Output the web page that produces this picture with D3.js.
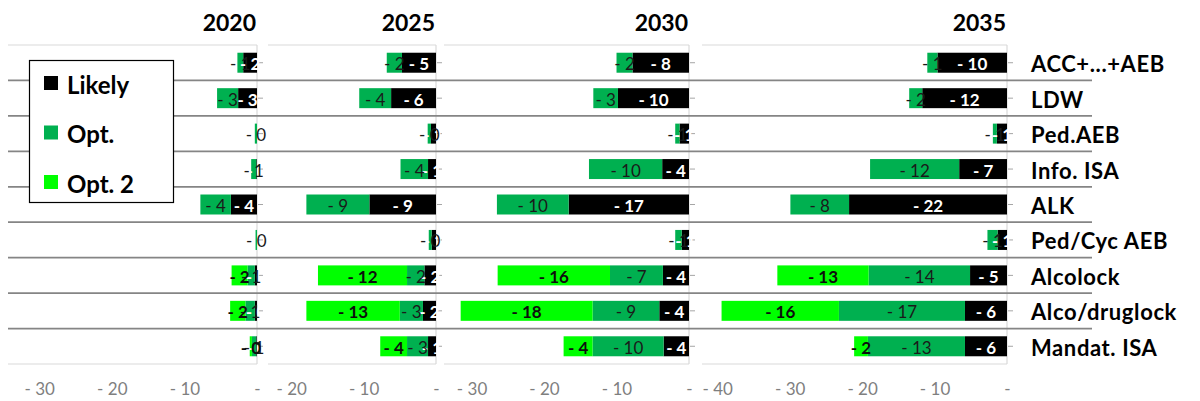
<!DOCTYPE html>
<html>
<head>
<meta charset="utf-8">
<script src="https://cdn.jsdelivr.net/npm/d3@7"></script>
<style>
  html, body { margin: 0; padding: 0; background: #fff; }
  svg { display: block; font-family: Lato, "Open Sans", sans-serif; }
</style>
</head>
<body>
<svg id="chart" width="1200" height="401"></svg>
<script>
// ---------------- DATA ----------------
const categories = ["ACC+...+AEB", "LDW", "Ped.AEB", "Info. ISA", "ALK", "Ped/Cyc AEB", "Alcolock", "Alco/druglock", "Mandat. ISA"];
const years = ["2020", "2025", "2030", "2035"];
const seriesNames = ["Likely", "Opt.", "Opt. 2"];

// values per year (one inner array per year, in order of `years`)
const likely = [
  [-1.9, -2.6, 0, -0.1, -3.6, 0, -0.3, -0.3, -0.1],
  [-4.7, -6.2, -0.7, -1.1, -9.2, -0.6, -1.6, -1.8, -1.1],
  [-7.8, -9.8, -1.3, -3.7, -16.6, -1.0, -3.6, -4.1, -3.5],
  [-9.6, -11.7, -1.4, -6.6, -21.8, -1.3, -5.1, -5.8, -5.8]
];
const opt = [
  [-0.8, -2.9, -0.3, -0.7, -4.2, -0.2, -1.0, -1.3, -0.6],
  [-2.1, -4.4, -0.45, -3.8, -8.7, -0.4, -2.4, -3.2, -2.9],
  [-2.2, -3.4, -0.6, -10.1, -9.9, -0.9, -7.3, -9.2, -9.8],
  [-1.4, -1.8, -0.55, -12.3, -8.1, -1.4, -14.0, -17.4, -13.4]
];
const opt2 = [
  [null, null, null, null, null, null, -2.2, -2.1, -0.3],
  [null, null, null, null, null, null, -12.3, -12.9, -3.7],
  [null, null, null, null, null, null, -15.5, -18.2, -4.0],
  [null, null, null, null, null, null, -12.6, -16.2, -1.9]
];
const axisMin = [-34.3, -23.2, -33.8, -42.1];
const tickValues = [
  [-30, -20, -10, 0],
  [-20, -10, 0],
  [-30, -20, -10, 0],
  [-40, -30, -20, -10, 0]
];

// ---------------- LAYOUT ----------------
const panelLeft = [8, 268, 444, 702];
const panelZero = [257, 436, 689, 1007];
const plotTop = 45, plotBottom = 364;
const colors = { "Likely": "#000000", "Opt.": "#00B050", "Opt. 2": "#00FF00" };

// Excel accounting-like format: "- 3", zero -> "-"
function acct(v) {
  const r = Math.round(Math.abs(v) + 1e-9);
  if (Math.abs(v) < 1e-9) return "-";
  return (v < 0 ? "- " : "") + r;
}

const svg = d3.select("#chart");

const y = d3.scaleBand().domain(categories).range([plotTop, plotBottom])
  .paddingInner(0.436).paddingOuter(0.218);
const step = y.step();

// Panel frame (light top/bottom lines and right vertical line)
years.forEach((yr, p) => {
  const g = svg.append("g");
  g.append("line").attr("x1", panelLeft[p]).attr("x2", panelZero[p])
    .attr("y1", plotTop).attr("y2", plotTop).attr("stroke", "#d9d9d9").attr("stroke-width", 1.2);
  g.append("line").attr("x1", panelLeft[p]).attr("x2", panelZero[p])
    .attr("y1", plotBottom).attr("y2", plotBottom).attr("stroke", "#d9d9d9").attr("stroke-width", 1.2);
  g.append("line").attr("x1", panelZero[p]).attr("x2", panelZero[p])
    .attr("y1", plotTop).attr("y2", plotBottom).attr("stroke", "#d9d9d9").attr("stroke-width", 1.2);
});

// Row separators (continuous)
d3.range(1, categories.length).forEach(k => {
  const yy = plotTop + step * k;
  svg.append("line").attr("x1", 8).attr("x2", 1092).attr("y1", yy).attr("y2", yy)
    .attr("stroke", "#858585").attr("stroke-width", 1.7);
});

// Panels
years.forEach((yr, p) => {
  const x = d3.scaleLinear().domain([axisMin[p], 0]).range([panelLeft[p], panelZero[p]]);
  const g = svg.append("g");

  // category ticks to the right of zero
  categories.forEach(c => {
    const cy = y(c) + y.bandwidth() / 2;
    g.append("line").attr("x1", x(0) + 1).attr("x2", x(0) + 6)
      .attr("y1", cy).attr("y2", cy).attr("stroke", "#a6a6a6").attr("stroke-width", 1);
  });

  // build stacked segments
  const segs = [];
  categories.forEach((c, i) => {
    let acc = 0;
    const parts = [["Likely", likely[p][i]], ["Opt.", opt[p][i]], ["Opt. 2", opt2[p][i]]];
    parts.forEach(([name, v]) => {
      if (v === null || v === undefined) return;
      segs.push({ cat: c, name, v, x0: acc, x1: acc + v });
      acc += v;
    });
  });

  g.selectAll("rect.seg").data(segs).join("rect")
    .attr("class", "seg")
    .attr("x", d => x(d.x1))
    .attr("width", d => x(d.x0) - x(d.x1))
    .attr("y", d => y(d.cat))
    .attr("height", y.bandwidth())
    .attr("fill", d => colors[d.name]);

  g.selectAll("text.lbl").data(segs.filter(d => d.v !== 0)).join("text")
    .attr("class", "lbl")
    .attr("x", d => (x(d.x0) + x(d.x1)) / 2)
    .attr("y", d => y(d.cat) + y.bandwidth() / 2 + 1)
    .attr("text-anchor", "middle")
    .attr("dominant-baseline", "central")
    .attr("font-size", 17)
    .attr("font-weight", d => d.name === "Opt." ? 400 : 700)
    .attr("fill", d => d.name === "Likely" ? "#ffffff" : (d.name === "Opt." ? "#1a1a1a" : "#0d0d0d"))
    .text(d => acct(d.v));

  // bottom axis
  const ax = g.append("g").attr("transform", `translate(0,${plotBottom})`)
    .call(d3.axisBottom(x).tickValues(tickValues[p]).tickSize(0).tickPadding(19).tickFormat(acct));
  ax.select(".domain").remove();
  ax.selectAll("text").attr("font-size", 17).attr("fill", "#7f7f7f")
    .attr("font-family", "Lato, sans-serif");

  // year header
  svg.append("text").attr("x", x(0) - 1).attr("y", 31)
    .attr("text-anchor", "end").attr("font-size", 23).attr("font-weight", 700)
    .attr("fill", "#000").text(yr);
});

// Category labels
svg.selectAll("text.cat").data(categories).join("text")
  .attr("class", "cat")
  .attr("x", 1031)
  .attr("y", d => y(d) + y.bandwidth() / 2 + 1)
  .attr("dominant-baseline", "central")
  .attr("font-size", 22).attr("font-weight", 700).attr("letter-spacing", 0.6).attr("fill", "#000")
  .text(d => d);

// Legend
const lg = svg.append("g");
lg.append("rect").attr("x", 29.5).attr("y", 60.5).attr("width", 144).attr("height", 142)
  .attr("fill", "#fff").attr("stroke", "#000").attr("stroke-width", 1.2);
const legY = d3.scalePoint().domain(seriesNames).range([83, 182]);
seriesNames.forEach(n => {
  lg.append("rect").attr("x", 44).attr("y", legY(n) - 7).attr("width", 14).attr("height", 14)
    .attr("fill", colors[n]);
  lg.append("text").attr("x", 67).attr("y", legY(n) + 1).attr("dominant-baseline", "central")
    .attr("font-size", 24).attr("font-weight", 700).attr("fill", "#000").text(n);
});
</script>
</body>
</html>
